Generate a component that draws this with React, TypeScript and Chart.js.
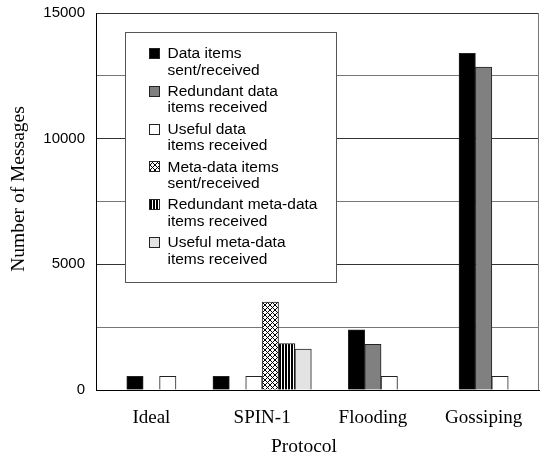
import React, { useEffect, useRef } from 'react';
import { Chart, registerables } from 'chart.js';

Chart.register(...registerables);

// ---- data ----
const categories = ['Ideal', 'SPIN-1', 'Flooding', 'Gossiping'];
const dataItemsSent: (number | null)[] = [540, 540, 2390, 13400];
const redundantDataReceived: (number | null)[] = [0, 0, 1820, 12850];
const usefulDataReceived: (number | null)[] = [540, 540, 540, 540];
const metaDataSent: (number | null)[] = [null, 3500, null, null];
const redundantMetaReceived: (number | null)[] = [null, 1850, null, null];
const usefulMetaReceived: (number | null)[] = [null, 1630, null, null];

const seriesLabels: string[][] = [
  ['Data items', 'sent/received'],
  ['Redundant data', 'items received'],
  ['Useful data', 'items received'],
  ['Meta-data items', 'sent/received'],
  ['Redundant meta-data', 'items received'],
  ['Useful meta-data', 'items received'],
];
const yMax = 15000;
const yStep = 2500;
const yLabelEvery = 5000;
const xTitle = 'Protocol';
const yTitle = 'Number of Messages';

function crossHatch(): CanvasPattern | string {
  const s = 5;
  const c = document.createElement('canvas');
  c.width = s; c.height = s;
  const g = c.getContext('2d');
  if (!g) return '#888';
  g.fillStyle = '#fff';
  g.fillRect(0, 0, s, s);
  g.strokeStyle = '#000';
  g.lineWidth = 1;
  g.beginPath();
  g.moveTo(0, 0); g.lineTo(s, s);
  g.moveTo(s, 0); g.lineTo(0, s);
  g.stroke();
  return g.createPattern(c, 'repeat') || '#888';
}

function vStripes(): CanvasPattern | string {
  const c = document.createElement('canvas');
  c.width = 3; c.height = 3;
  const g = c.getContext('2d');
  if (!g) return '#444';
  g.fillStyle = '#fff';
  g.fillRect(0, 0, 3, 3);
  g.fillStyle = '#000';
  g.fillRect(0, 0, 2, 3);
  return g.createPattern(c, 'repeat') || '#444';
}

const SANS = '"Liberation Sans", Arial, sans-serif';
const SERIF = '"Liberation Serif", "Times New Roman", serif';

export default function App() {
  const ref = useRef<HTMLCanvasElement | null>(null);

  useEffect(() => {
    if (!ref.current) return;
    const fills: (string | CanvasPattern)[] = [
      '#000000',
      '#808080',
      '#ffffff',
      crossHatch(),
      vStripes(),
      '#e3e3e3',
    ];
    const values = [
      dataItemsSent,
      redundantDataReceived,
      usefulDataReceived,
      metaDataSent,
      redundantMetaReceived,
      usefulMetaReceived,
    ];

    const overlay = {
      id: 'overlay',
      afterDraw(chart: any) {
        const { ctx, chartArea: a } = chart;
        ctx.save();
        // right frame line
        ctx.strokeStyle = '#777';
        ctx.lineWidth = 1;
        ctx.beginPath();
        ctx.moveTo(Math.round(a.right) - 0.5, a.top);
        ctx.lineTo(Math.round(a.right) - 0.5, a.bottom);
        ctx.stroke();

        // legend box
        const bx = 125.5, by = 32.5, bw = 211, bh = 250;
        ctx.fillStyle = '#fff';
        ctx.fillRect(bx, by, bw, bh);
        ctx.strokeStyle = '#555';
        ctx.strokeRect(bx, by, bw, bh);

        ctx.font = `15.5px ${SANS}`;
        ctx.textBaseline = 'middle';
        ctx.textAlign = 'left';
        seriesLabels.forEach((lines, i) => {
          const y0 = 54 + i * 37.8;
          ctx.fillStyle = fills[i];
          ctx.fillRect(149.5, Math.round(y0) - 5.5, 10, 10);
          ctx.strokeStyle = '#222';
          ctx.strokeRect(149.5, Math.round(y0) - 5.5, 10, 10);
          ctx.fillStyle = '#000';
          lines.forEach((t, j) => ctx.fillText(t, 167.5, y0 + j * 16.3));
        });

        // axis titles
        ctx.font = `19.5px ${SERIF}`;
        ctx.fillStyle = '#000';
        ctx.textAlign = 'center';
        ctx.fillText(xTitle, 304, 447);
        ctx.translate(19, 189);
        ctx.rotate(-Math.PI / 2);
        ctx.fillText(yTitle, 0, 0);
        ctx.restore();
      },
    };

    const chart = new Chart(ref.current, {
      type: 'bar',
      data: {
        labels: categories,
        datasets: values.map((v, i) => ({
          label: seriesLabels[i].join(' '),
          data: v,
          backgroundColor: fills[i] as any,
          borderColor: '#222',
          borderWidth: 1,
          barThickness: 16.4,
          skipNull: true,
        })),
      },
      options: {
        animation: false,
        responsive: false,
        devicePixelRatio: 1,
        layout: { padding: { left: 0, top: 13, right: 1, bottom: 0 } },
        plugins: { legend: { display: false }, tooltip: { enabled: false } },
        scales: {
          x: {
            grid: { display: false },
            border: { display: true, color: '#000', width: 1 },
            ticks: {
              color: '#000',
              font: { family: SERIF, size: 19 },
              padding: 9,
            },
            afterFit: (s: any) => {
              s.height = 70;
              s.paddingLeft = 0;
              s.paddingRight = 0;
            },
          },
          y: {
            min: 0,
            max: yMax,
            grid: {
              drawTicks: false,
              color: (c: any) =>
                c.tick && c.tick.value % yLabelEvery === 0 ? '#333' : '#777',
              lineWidth: 1,
            },
            border: { display: true, color: '#000', width: 1 },
            ticks: {
              stepSize: yStep,
              color: '#000',
              font: { family: SANS, size: 15 },
              padding: 11,
              callback: (v: any) => (Number(v) % yLabelEvery === 0 ? String(v) : ''),
            },
            afterFit: (s: any) => {
              s.width = 96;
              s.paddingTop = 0;
              s.paddingBottom = 0;
            },
          },
        },
      },
      plugins: [overlay],
    });
    return () => chart.destroy();
  }, []);

  return (
    <div style={{ position: 'fixed', left: 0, top: 0, width: 540, height: 460, background: '#fff' }}>
      <canvas ref={ref} width={540} height={460} style={{ display: 'block' }} />
    </div>
  );
}
